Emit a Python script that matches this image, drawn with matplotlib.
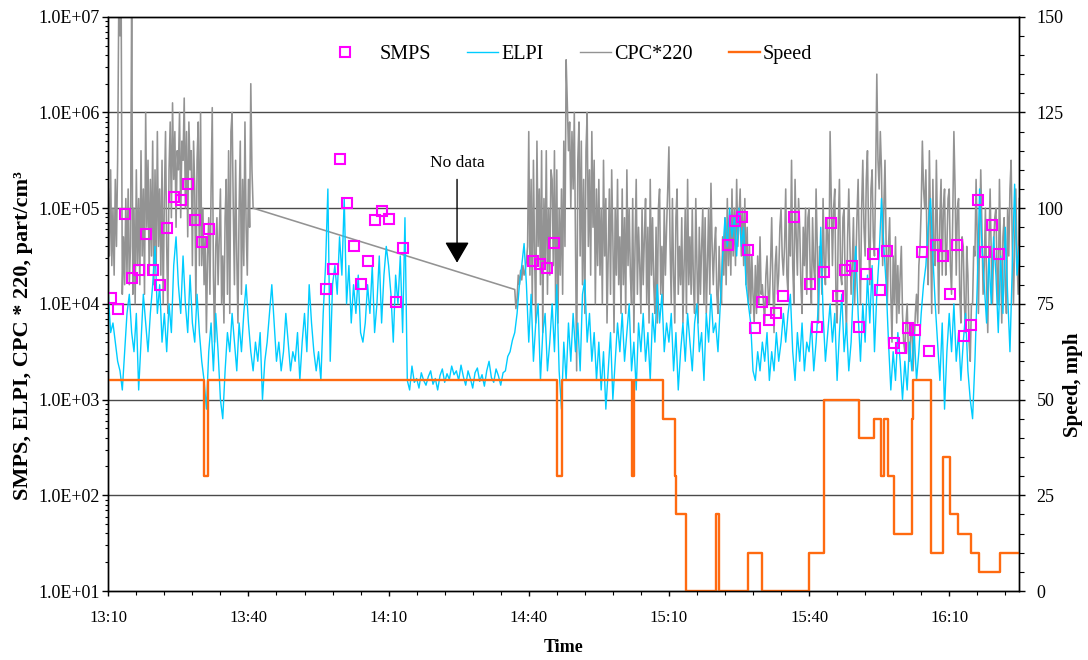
import numpy as np
import matplotlib
matplotlib.use("Agg")
import matplotlib.pyplot as plt
from matplotlib.ticker import FixedLocator, FixedFormatter, MultipleLocator, LogLocator, NullFormatter
from matplotlib.legend_handler import HandlerLine2D

plt.rcParams['font.family'] = ['Liberation Serif', 'DejaVu Serif']

# ---------------------------------------------------------------------------
# Data (time in minutes after 13:10, concentrations as log10 of part/cm3)
# ---------------------------------------------------------------------------
ELPI_STEP = 0.5   # minutes between ELPI samples
CPC_STEP = 0.25   # minutes between CPC samples

# ELPI total number concentration, logged from 13:10 onward
elpi_start = 0.0
elpi_log10 = [
    4.1, 3.7, 3.8, 3.6, 3.4, 3.3, 3.1, 3.5, 3.9, 4.1,
    3.7, 3.5, 3.9, 3.1, 3.6, 4.1, 3.8, 3.5, 3.9, 4.2,
    4.6, 3.9, 4.2, 3.6, 3.9, 3.5, 4.0, 3.7, 4.4, 4.7,
    4.2, 3.9, 4.5, 4.0, 3.7, 4.3, 3.8, 3.6, 4.1, 3.7,
    3.4, 3.2, 2.9, 3.5, 3.8, 3.3, 3.9, 3.5, 3.0, 2.8,
    3.3, 3.7, 3.5, 3.9, 3.6, 3.3, 3.8, 3.5, 3.9, 4.2,
    3.8, 3.5, 3.3, 3.6, 3.4, 3.7, 3.0, 3.4, 3.6, 3.9,
    4.2, 3.8, 3.4, 3.6, 3.3, 3.5, 3.9, 3.6, 3.3, 3.5,
    3.4, 3.7, 3.2, 3.6, 3.9, 3.5, 4.2, 3.8, 3.5, 3.3,
    3.5, 3.2, 3.9, 4.4, 5.2, 3.4, 4.2, 4.4, 4.1, 4.7,
    4.3, 5.1, 4.0, 4.4, 3.8, 4.2, 3.9, 4.3, 3.7, 3.6,
    3.8, 4.2, 3.9, 4.4, 3.7, 4.0, 4.5, 3.8, 4.3, 4.6,
    4.4, 4.1, 3.6, 4.3, 4.0, 4.5, 3.7, 4.9, 3.2, 3.1,
    3.35, 3.18, 3.22, 3.12, 3.28, 3.20, 3.15, 3.24, 3.30, 3.16,
    3.22, 3.10, 3.25, 3.32, 3.18, 3.27, 3.21, 3.35, 3.26, 3.30,
    3.20, 3.36, 3.24, 3.15, 3.30, 3.22, 3.12, 3.28, 3.33, 3.19,
    3.26, 3.14, 3.30, 3.40, 3.23, 3.18, 3.32, 3.25, 3.15, 3.28,
    3.3, 3.45, 3.5, 3.62, 3.7, 3.9, 4.2, 4.4, 4.63, 4.2,
    3.6, 4.1, 3.4, 3.8, 4.0, 3.2, 3.7, 3.9, 3.3, 3.6,
    4.0, 3.5, 4.2, 3.3, 2.9, 3.6, 3.2, 3.8, 3.4, 3.9,
    3.5, 3.8, 3.3, 4.1, 4.25, 3.6, 3.9, 3.4, 3.7, 3.2,
    3.6, 3.1, 3.5, 2.9, 3.3, 3.7, 3.0, 3.4, 3.8, 3.5,
    3.9, 3.4, 3.7, 4.0, 3.3, 3.6, 3.1, 3.8, 3.5, 3.9,
    3.4, 3.7, 3.2, 3.9, 3.6, 4.2, 3.8, 4.1, 3.5, 3.8,
    3.6, 3.9, 3.3, 3.7, 3.1, 3.5, 3.8, 3.4, 3.9, 3.6,
    3.3, 3.8, 4.0, 3.5, 3.7, 3.2, 3.9, 3.6, 4.1, 3.7,
    3.8, 3.5, 4.0, 4.5, 4.9, 4.6, 5.0, 4.7, 4.9, 4.5,
    5.0, 4.6, 4.8, 4.2, 4.0, 3.8, 3.3, 3.2, 3.5, 3.3,
    3.6, 3.4, 3.7, 3.2, 3.5, 3.3, 3.7, 3.4, 3.6, 3.9,
    3.6, 3.9, 4.1, 3.5, 3.2, 3.7, 3.4, 3.8, 3.3, 3.6,
    3.5, 3.8, 3.3, 3.6, 4.0, 4.8, 3.9, 3.4, 3.7, 4.0,
    3.6, 3.9, 3.2, 3.7, 4.1, 3.5, 3.8, 3.3, 3.6, 4.2,
    4.6, 3.9, 3.4, 4.0, 3.6, 4.3, 3.8, 4.4, 3.5, 4.1,
    4.5, 5.1, 4.6, 4.2, 3.6, 3.1, 3.5, 3.2, 3.7, 3.4,
    3.0, 3.4, 3.1, 3.6, 3.3, 3.7, 3.2, 3.5, 3.9, 4.2,
    4.4, 4.8, 5.1, 4.5, 4.0, 3.6, 3.2, 3.8, 2.9, 3.5,
    3.9, 3.5, 4.0, 3.4, 3.7, 3.2, 3.6, 3.9, 3.3, 3.0,
    2.8, 3.4, 4.2, 5.2, 4.6, 4.2, 3.8, 4.5, 4.0, 4.7,
    4.3, 3.7, 4.5, 3.9, 4.8, 4.1, 3.5, 4.4, 5.25, 4.3,
    4.6,
]

# CPC readings multiplied by 220; logging stopped between the two runs
cpc_run1_start = 0.0
cpc_run1_log10 = [
    5.2, 4.5, 5.4, 4.4, 5.0, 4.3, 5.3, 4.6, 5.5, 7.2, 6.8, 7.2, 4.1, 4.7, 4.2, 5.1, 4.3, 5.2, 4.2, 4.6,
    7.2, 4.1, 5.0, 4.0, 5.4, 4.4, 5.1, 4.2, 5.6, 4.5, 5.2, 4.1, 6.0, 4.8, 5.5, 4.3, 5.3, 4.5, 5.7, 4.2,
    5.4, 4.4, 5.8, 4.6, 5.2, 4.3, 5.5, 4.0, 5.1, 5.8, 4.6, 3.9, 5.4, 5.9, 4.9, 6.1, 5.3, 5.8, 4.8, 5.6,
    5.4, 6.0, 4.9, 5.7, 5.5, 6.15, 5.0, 5.8, 4.7, 5.9, 5.4, 5.6, 4.4, 5.7, 5.2, 4.0, 5.5, 5.9, 4.4, 6.0,
    4.4, 5.0, 4.2, 4.7, 3.7, 4.5, 4.9, 4.1, 5.2, 6.05, 4.3, 3.6, 4.6, 4.9, 4.2, 4.7, 5.2, 4.0, 4.5, 3.8,
    4.9, 5.3, 4.1, 5.6, 3.9, 5.8, 6.0, 5.0, 4.2, 5.5, 4.5, 3.8, 5.0, 5.7, 4.1, 5.3, 4.4, 5.9, 4.8, 4.3,
    5.3, 4.8, 6.3, 5.4, 5.0,
]
cpc_run2_start = 87.0
cpc_run2_log10 = [
    4.15, 3.95, 4.05, 4.3, 4.2, 4.35, 4.25, 4.4, 4.3, 4.35, 4.45, 4.6,
    5.8, 4.3, 5.3, 4.0, 5.5, 4.5, 3.8, 5.7, 4.6, 5.2, 4.2, 5.6, 3.7, 5.1, 4.4, 5.6, 4.1, 5.0, 4.3, 5.4,
    5.3, 4.4, 5.6, 4.0, 5.4, 3.8, 5.0, 4.3, 5.2, 4.1, 5.7, 4.6, 6.55, 6.1, 5.6, 5.9, 5.0, 5.8, 5.2, 6.0,
    4.7, 3.3, 5.5, 5.9, 4.5, 5.7, 4.2, 5.3, 3.9, 5.6, 6.0, 4.6, 5.4, 4.3, 5.8, 4.8, 5.5, 4.0, 5.2, 4.4,
    5.3, 4.3, 5.0, 4.0, 5.5, 4.5, 5.1, 3.8, 4.5, 5.2, 4.1, 5.4, 4.7, 3.7, 5.0, 4.3, 5.3, 4.2, 4.7, 3.9,
    5.2, 4.2, 4.9, 3.9, 5.4, 4.4, 5.0, 4.3, 4.0, 5.1, 3.7, 4.6, 5.3, 4.1, 4.8, 4.4, 3.9, 5.0, 4.2, 4.7,
    5.1, 4.0, 4.8, 3.8, 5.3, 4.3, 4.9, 4.2, 3.9, 4.8, 3.8, 5.0, 5.2, 4.1, 4.6, 4.0, 5.0, 4.3, 4.8, 5.2,
    5.64, 4.6, 4.0, 5.1, 4.3, 3.8, 4.9, 5.2, 4.1, 4.6, 4.2, 4.9, 3.8, 4.4, 5.0, 3.9, 5.3, 4.2, 4.7, 4.1,
    5.0, 4.2, 3.9, 5.1, 4.4, 3.8, 4.8, 4.1, 4.6, 5.0, 4.0, 4.9, 3.9, 4.4, 5.0, 4.1, 5.26, 4.6, 4.2, 4.6,
    4.8, 4.1, 3.9, 4.6, 4.2, 4.0, 4.7, 4.3, 4.9, 4.2, 5.1, 4.4, 4.9, 4.3, 5.2, 4.5, 5.0, 4.4, 5.3, 4.6,
    4.9, 5.2, 4.5, 5.0, 4.4, 5.1, 4.2, 4.8, 4.0, 4.6, 3.9, 4.5, 4.1, 3.8, 4.4, 3.9, 4.5, 4.0, 4.7, 4.1,
    4.2, 4.0, 3.8, 4.3, 4.5, 4.1, 4.0, 4.4, 4.9, 4.2, 3.7, 4.4, 4.6, 4.1, 4.3, 4.8, 5.0, 4.5, 4.3, 4.6,
    5.2, 4.3, 4.1, 4.9, 4.5, 5.5, 4.4, 4.0, 5.3, 4.7, 4.3, 5.1, 4.8, 4.2, 3.9, 4.8, 4.4, 5.0, 4.1, 4.9,
    5.0, 4.3, 4.0, 4.9, 4.4, 4.2, 5.2, 4.6, 3.8, 4.6, 4.5, 4.1, 5.1, 4.4, 4.2, 4.9, 4.7, 4.3, 5.8, 5.1,
    4.4, 5.0, 5.2, 4.1, 3.8, 4.8, 5.3, 4.3, 4.2, 4.9, 5.0, 4.1, 3.7, 4.7, 5.2, 4.6, 4.1, 4.4, 4.9, 4.0,
    4.4, 4.9, 5.3, 4.5, 4.0, 5.0, 5.5, 4.8, 4.5, 5.3, 5.6, 4.7, 4.2, 5.2, 5.4, 4.7, 4.5, 5.3, 6.4, 5.5,
    5.2, 5.8, 5.4, 4.4, 5.0, 5.5, 4.6, 4.0, 4.6, 4.9, 4.1, 3.6, 4.5, 4.0, 4.7, 3.8, 4.4, 3.9, 4.3, 4.6,
    3.9, 3.6, 3.5, 3.8, 4.0, 3.5, 3.4, 3.7, 3.8, 3.3, 3.6, 3.9, 4.1, 3.8, 4.4, 4.6, 5.0, 5.7, 5.2, 5.0,
    5.4, 4.6, 4.2, 5.6, 4.8, 3.9, 5.3, 4.5, 4.4, 5.5, 4.7, 3.9, 4.9, 5.3, 4.3, 5.0, 5.2, 4.3, 4.6, 5.1,
    5.2, 4.4, 4.1, 4.9, 5.8, 5.2, 4.3, 5.0, 5.1, 4.1, 3.8, 4.7, 4.6, 4.0, 3.7, 4.6, 4.3, 3.6, 3.4, 4.0,
    4.0, 4.6, 4.5, 5.3, 4.7, 3.9, 4.7, 5.4, 4.8, 4.1, 4.4, 5.0, 4.2, 3.7, 4.6, 5.2, 4.5, 4.0, 4.6, 4.9,
    5.0, 4.3, 4.0, 5.3, 4.5, 3.8, 4.7, 4.9, 4.2, 3.9, 5.0, 4.5, 5.2, 5.5, 4.6, 4.0, 4.6, 5.2, 4.5, 4.1, 5.1,
]

# SMPS scans (scan mid-time, log10 total concentration)
smps_t = [
    0.5, 2.0, 3.5, 5.0, 6.5, 8.0, 9.5, 11.0, 12.5, 14.0, 15.5, 17.0, 18.5, 20.0, 21.5,
    46.5, 48.0, 49.5, 51.0, 52.5, 54.0, 55.5, 57.0, 58.5, 60.0, 61.5, 63.0,
    90.9, 92.4, 93.9, 95.4,
    132.6, 134.1, 135.6, 137.0, 138.5, 140.0, 141.5, 143.0, 144.5, 146.8,
    150.2, 151.7, 153.2, 154.7, 156.2, 157.7, 159.2, 160.7, 162.2, 163.7,
    165.2, 166.7, 168.2, 169.7, 171.2, 172.7, 174.2, 175.7, 177.2, 178.7,
    180.2, 181.7, 183.2, 184.7, 186.2, 187.7, 189.2, 190.7,
]
smps_log10 = [
    4.06, 3.95, 4.94, 4.27, 4.35, 4.73, 4.35, 4.20, 4.79, 5.12, 5.08, 5.25, 4.88, 4.65, 4.78,
    4.15, 4.36, 5.51, 5.05, 4.60, 4.21, 4.45, 4.88, 4.97, 4.89, 4.02, 4.58,
    4.45, 4.42, 4.37, 4.64,
    4.62, 4.87, 4.91, 4.56, 3.75, 4.02, 3.83, 3.90, 4.08, 4.91,
    4.21, 3.76, 4.33, 4.84, 4.08, 4.35, 4.40, 3.76, 4.31, 4.52,
    4.14, 4.55, 3.59, 3.54, 3.75, 3.73, 4.54, 3.51, 4.62, 4.50,
    4.10, 4.61, 3.66, 3.78, 5.08, 4.54, 4.82, 4.52,
]

# Vehicle speed: times at which the speed changed and the new speed (mph)
speed_t = [0.0, 20.5, 21.4, 96.1, 97.1, 112.1, 112.5, 118.8, 121.2, 121.45,
           123.6, 130.0, 130.7, 137.0, 140.0, 150.0, 153.2, 160.7, 163.8, 165.5,
           166.1, 166.8, 168.2, 172.0, 172.3, 176.1, 178.6, 180.2, 181.8, 184.6,
           186.3, 190.9, 195.0]
speed_mph = [55, 30, 55, 30, 55, 30, 55, 45, 30, 20,
             0, 20, 0, 10, 0, 10, 50, 40, 45, 30,
             45, 30, 15, 45, 55, 10, 35, 20, 15, 10,
             5, 10, 10]

# Axis labelling
time_ticks = [0, 30, 60, 90, 120, 150, 180]
time_labels = ["13:10", "13:40", "14:10", "14:40", "15:10", "15:40", "16:10"]
conc_ticks = [1e1, 1e2, 1e3, 1e4, 1e5, 1e6, 1e7]
conc_labels = ["1.0E+01", "1.0E+02", "1.0E+03", "1.0E+04", "1.0E+05", "1.0E+06", "1.0E+07"]
speed_ticks = [0, 25, 50, 75, 100, 125, 150]

# ---------------------------------------------------------------------------
def sample_times(start, n, step):
    return start + step * np.arange(n)


class MarkerAtLeft(HandlerLine2D):
    """Legend handler that puts a lone marker at the left end of its handle box."""
    def get_xdata(self, legend, xdescent, ydescent, width, height, fontsize):
        # with one point the marker sits at the middle of xdata
        xdata = [-xdescent - width, -xdescent + width]
        return xdata, [-xdescent]


elpi_time = sample_times(elpi_start, len(elpi_log10), ELPI_STEP)
elpi_val = 10.0 ** np.array(elpi_log10)

cpc_time = np.concatenate([sample_times(cpc_run1_start, len(cpc_run1_log10), CPC_STEP),
                           sample_times(cpc_run2_start, len(cpc_run2_log10), CPC_STEP)])
cpc_val = 10.0 ** np.array(cpc_run1_log10 + cpc_run2_log10)

smps_val = 10.0 ** np.array(smps_log10)

W, H = 1088, 660
fig = plt.figure(figsize=(W / 100, H / 100), dpi=100)
x0, x1, ytop, ybot = 108.3, 1019.3, 16.7, 591.0
ax = fig.add_axes([x0 / W, 1 - ybot / H, (x1 - x0) / W, (ybot - ytop) / H])

C_CPC = '#939393'
C_ELPI = '#00CCFF'
C_SMPS = '#FF00FF'
C_SPEED = '#FF6A10'

for v in [1e2, 1e3, 1e4, 1e5, 1e6]:
    ax.axhline(v, color='#4a4a4a', lw=1.0, zorder=1)

h_cpc, = ax.plot(cpc_time, cpc_val, color=C_CPC, lw=1.15, zorder=2, label='CPC*220')
h_elpi, = ax.plot(elpi_time, elpi_val, color=C_ELPI, lw=1.0, zorder=3, label='ELPI')
h_smps, = ax.plot(smps_t, smps_val, ls='none', marker='s', ms=7.5, mfc='none',
                  mec=C_SMPS, mew=1.5, zorder=4, label='SMPS')

ax.set_yscale('log')
ax.set_ylim(1e1, 1e7)
ax.set_xlim(0, 195.0)
ax.yaxis.set_major_locator(FixedLocator(conc_ticks))
ax.yaxis.set_major_formatter(FixedFormatter(conc_labels))
ax.yaxis.set_minor_locator(LogLocator(base=10, subs=np.arange(2, 10)))
ax.yaxis.set_minor_formatter(NullFormatter())
ax.xaxis.set_major_locator(FixedLocator(time_ticks))
ax.xaxis.set_major_formatter(FixedFormatter(time_labels))
ax.xaxis.set_minor_locator(MultipleLocator(6))

ax.tick_params(axis='y', which='major', direction='out', length=4.5, width=1, pad=1.5, labelsize=13)
ax.tick_params(axis='y', which='minor', direction='out', length=2.5, width=0.8)
ax.tick_params(axis='x', which='major', direction='out', length=3.5, width=1, pad=10.5, labelsize=12)
ax.tick_params(axis='x', which='minor', direction='out', length=3.0, width=0.8)

ax2 = ax.twinx()
h_speed, = ax2.step(speed_t, speed_mph, where='post', color=C_SPEED, lw=1.7, label='Speed')
ax2.set_ylim(0, 150)
ax2.yaxis.set_major_locator(FixedLocator(speed_ticks))
ax2.yaxis.set_minor_locator(MultipleLocator(5))
ax2.tick_params(axis='y', which='major', direction='out', length=4.5, width=1, pad=8, labelsize=13)
ax2.tick_params(axis='y', which='minor', direction='out', length=3.5, width=0.8)

for a in (ax, ax2):
    for s in a.spines.values():
        s.set_linewidth(1.0)
        s.set_color('black')

# Annotation for the CPC gap
ax.text(74.65, 10 ** 5.47, 'No data', ha='center', va='center', fontsize=12.5)
ax.annotate('', xy=(74.65, 10 ** 4.43), xytext=(74.65, 10 ** 5.30),
            arrowprops=dict(arrowstyle='-|>,head_length=0.65,head_width=0.38',
                            color='black', lw=1.0, mutation_scale=20,
                            shrinkA=0, shrinkB=0))

leg = ax2.legend([h_smps, h_elpi, h_cpc, h_speed], ['SMPS', 'ELPI', 'CPC*220', 'Speed'],
                 ncol=4, frameon=False, fontsize=14.5, loc='upper left',
                 bbox_to_anchor=(345 / W, 1 - 45 / H), bbox_transform=fig.transFigure,
                 borderaxespad=0, borderpad=0, handlelength=1.55, handletextpad=0.15,
                 columnspacing=1.8, numpoints=1,
                 handler_map={h_smps: MarkerAtLeft(numpoints=1)})
for lh in leg.get_lines()[1:3]:
    lh.set_linewidth(1.0)

fig.text(563.8 / W, 1 - 648 / H, 'Time', ha='center', va='center',
         fontsize=13, fontweight='bold')
fig.text(23.5 / W, 1 - 336 / H, 'SMPS, ELPI, CPC * 220, part/cm³', rotation=90,
         ha='center', va='center', fontsize=16, fontweight='bold')
fig.text(1073 / W, 1 - 385 / H, 'Speed, mph', rotation=90,
         ha='center', va='center', fontsize=15, fontweight='bold')

fig.savefig('out.png', dpi=100)
